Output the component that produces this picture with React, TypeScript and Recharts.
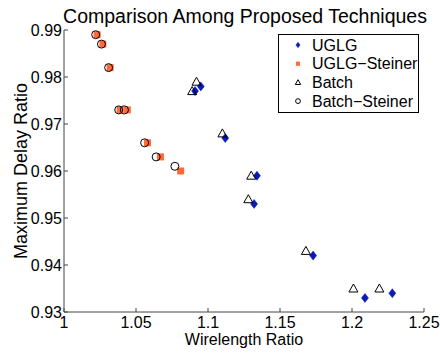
import React from 'react';
import { ScatterChart, Scatter, XAxis, YAxis, Customized } from 'recharts';

const uglgX = [1.091, 1.095, 1.112, 1.134, 1.132, 1.173, 1.209, 1.228];
const uglgY = [0.977, 0.978, 0.967, 0.959, 0.953, 0.942, 0.933, 0.934];
const uglgSteinerX = [1.023, 1.027, 1.032, 1.039, 1.044, 1.058, 1.067, 1.081];
const uglgSteinerY = [0.989, 0.987, 0.982, 0.973, 0.973, 0.966, 0.963, 0.96];
const batchX = [1.092, 1.089, 1.11, 1.13, 1.128, 1.168, 1.201, 1.219];
const batchY = [0.979, 0.977, 0.968, 0.959, 0.954, 0.943, 0.935, 0.935];
const batchSteinerX = [1.022, 1.026, 1.031, 1.038, 1.042, 1.056, 1.064, 1.077];
const batchSteinerY = [0.989, 0.987, 0.982, 0.973, 0.973, 0.966, 0.963, 0.961];

const xTicks = [1, 1.05, 1.1, 1.15, 1.2, 1.25];
const yTicks = [0.93, 0.94, 0.95, 0.96, 0.97, 0.98, 0.99];
const seriesNames = ['UGLG', 'UGLG\u2212Steiner', 'Batch', 'Batch\u2212Steiner'];
const title = 'Comparison Among Proposed Techniques';

const toPoints = (xs: number[], ys: number[]) => xs.map((x, i) => ({ x, y: ys[i] }));

const FONT = '"Liberation Sans", Arial, Helvetica, sans-serif';
const BLUE = '#0a1ab8';
const ORANGE = '#ff6a3a';
const AXIS = '#444';

const Diamond = ({ cx, cy, s = 1 }: any) => (
  <path
    d={`M${cx},${cy - 4.5 * s}L${cx + 3.5 * s},${cy}L${cx},${cy + 4.5 * s}L${cx - 3.5 * s},${cy}Z`}
    fill={BLUE}
    stroke={BLUE}
    strokeWidth={0.5}
  />
);
const Square = ({ cx, cy, s = 1 }: any) => (
  <rect x={cx - 3.5 * s} y={cy - 3.5 * s} width={7 * s} height={7 * s} fill={ORANGE} />
);
const Triangle = ({ cx, cy, s = 1 }: any) => (
  <path
    d={`M${cx},${cy - 4.5 * s}L${cx + 4.5 * s},${cy + 3.5 * s}L${cx - 4.5 * s},${cy + 3.5 * s}Z`}
    fill="none"
    stroke="#000"
    strokeWidth={1}
  />
);
const Circle = ({ cx, cy, s = 1 }: any) => (
  <circle cx={cx} cy={cy} r={4 * s} fill="none" stroke="#000" strokeWidth={1} />
);

const markers = [Diamond, Square, Triangle, Circle];
const legendScale = [0.6, 0.6, 0.6, 0.6];

const TitleText = () => (
  <text x={245} y={23} textAnchor="middle" fontFamily={FONT} fontSize={19.5} fill="#000">
    {title}
  </text>
);

const LegendBox = () => {
  const left = 278;
  const top = 34;
  return (
    <g>
      <rect x={left + 0.5} y={top + 0.5} width={140} height={78} fill="#fff" stroke="#000" strokeWidth={1} />
      {seriesNames.map((name, i) => {
        const M = markers[i];
        const cy = top + 11 + i * 18.7;
        return (
          <g key={name}>
            <M cx={left + 20} cy={cy} s={legendScale[i]} />
            <text x={left + 34} y={cy + 5.5} fontFamily={FONT} fontSize={16} fill="#000">
              {name}
            </text>
          </g>
        );
      })}
    </g>
  );
};

const tickStyle = { fill: '#000', fontSize: 16, fontFamily: FONT };

export default function App() {
  return (
    <div style={{ position: 'absolute', left: 0, top: 0, width: 440, height: 356, background: '#fff' }}>
      <ScatterChart width={440} height={356} margin={{ top: 30, right: 16, bottom: 0, left: 0 }}>
        <XAxis
          type="number"
          dataKey="x"
          domain={[1, 1.25]}
          ticks={xTicks}
          allowDataOverflow
          height={44}
          tickSize={-4}
          tickMargin={9}
          stroke={AXIS}
          tick={tickStyle}
          tickLine={{ stroke: AXIS }}
          label={{ value: 'Wirelength Ratio', position: 'insideBottom', offset: 11, style: { fontSize: 16, fontFamily: FONT, fill: '#000' } }}
        />
        <YAxis
          type="number"
          dataKey="y"
          domain={[0.93, 0.99]}
          ticks={yTicks}
          allowDataOverflow
          width={64}
          tickSize={-4}
          tickMargin={6}
          stroke={AXIS}
          tick={tickStyle}
          tickLine={{ stroke: AXIS }}
          label={{ value: 'Maximum Delay Ratio', angle: -90, position: 'insideLeft', offset: 21, style: { textAnchor: 'middle', fontSize: 18, fontFamily: FONT, fill: '#000' } }}
        />
        <Scatter name="UGLG" data={toPoints(uglgX, uglgY)} shape={(p: any) => <Diamond cx={p.cx} cy={p.cy} />} isAnimationActive={false} />
        <Scatter name="UGLG-Steiner" data={toPoints(uglgSteinerX, uglgSteinerY)} shape={(p: any) => <Square cx={p.cx} cy={p.cy} />} isAnimationActive={false} />
        <Scatter name="Batch" data={toPoints(batchX, batchY)} shape={(p: any) => <Triangle cx={p.cx} cy={p.cy} />} isAnimationActive={false} />
        <Scatter name="Batch-Steiner" data={toPoints(batchSteinerX, batchSteinerY)} shape={(p: any) => <Circle cx={p.cx} cy={p.cy} />} isAnimationActive={false} />
        <Customized component={TitleText} />
        <Customized component={LegendBox} />
      </ScatterChart>
    </div>
  );
}
